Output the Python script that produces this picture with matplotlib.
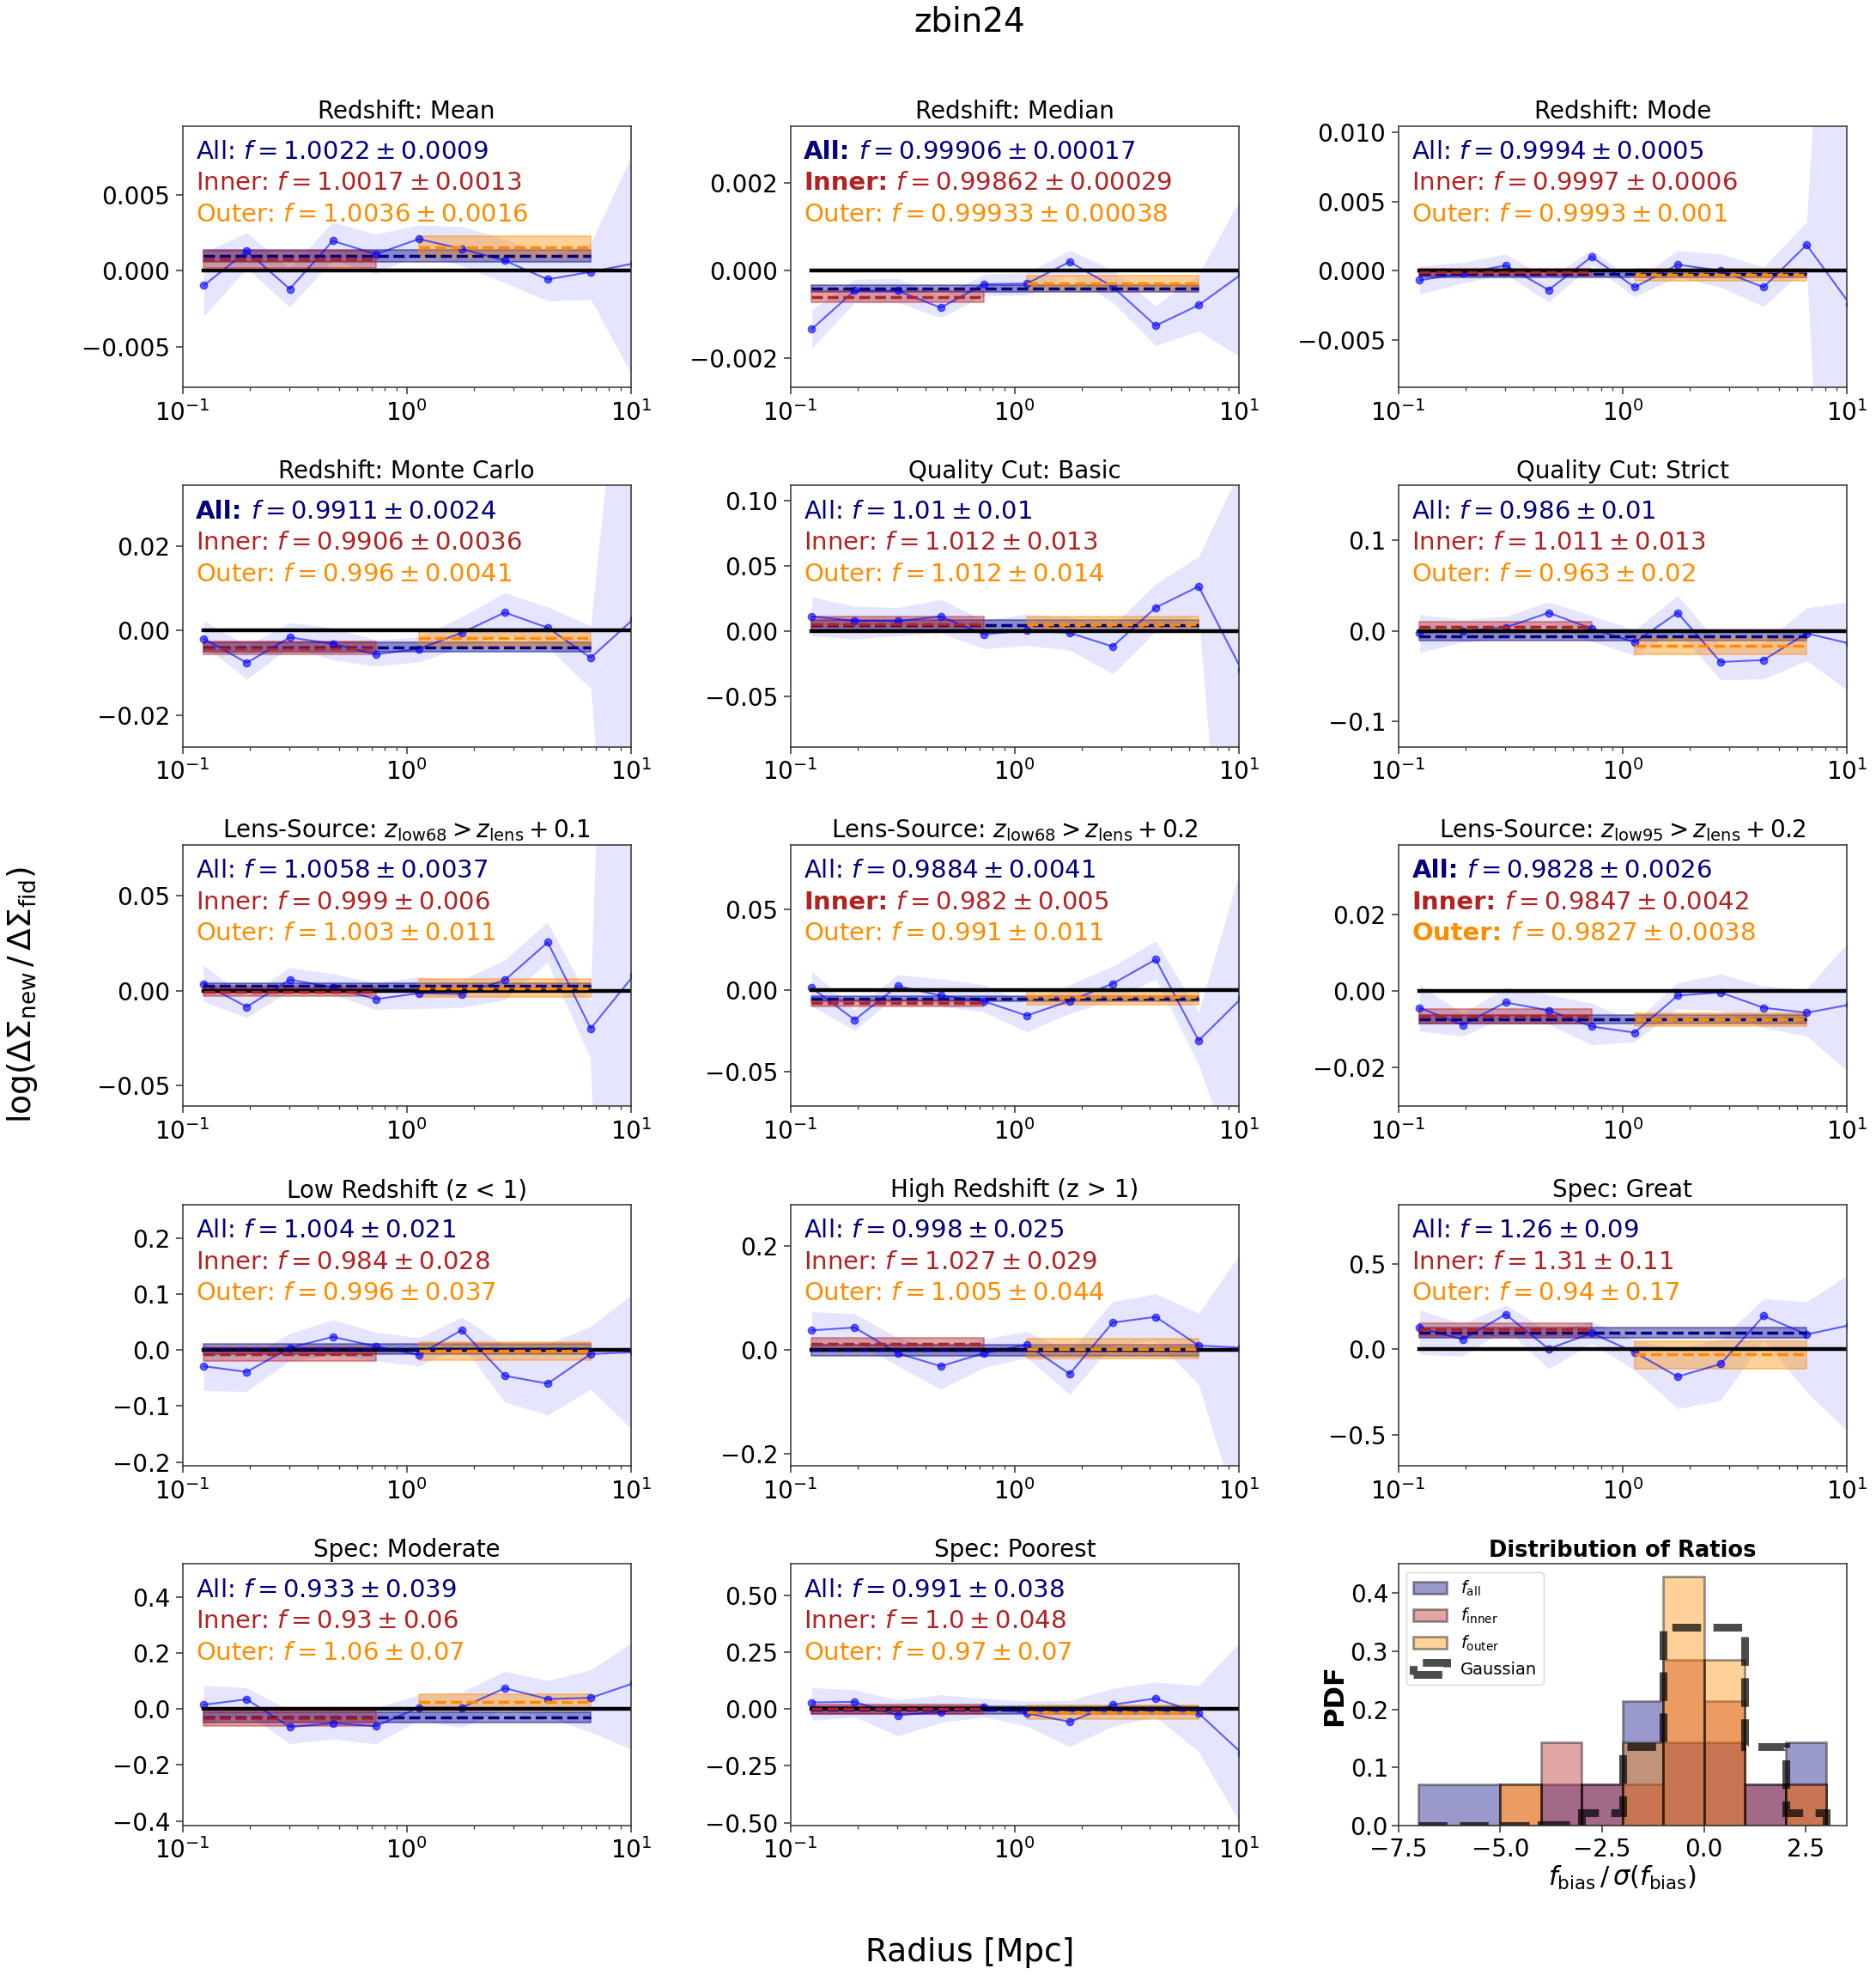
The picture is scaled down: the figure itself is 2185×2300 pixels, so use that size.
import numpy as np
import matplotlib
matplotlib.use("Agg")
import matplotlib.pyplot as plt

plt.rcParams['axes.edgecolor'] = '0.2'
plt.rcParams['axes.linewidth'] = 1.1
plt.rcParams['xtick.color'] = '0.2'
plt.rcParams['ytick.color'] = '0.2'
plt.rcParams['xtick.labelcolor'] = 'black'
plt.rcParams['ytick.labelcolor'] = 'black'
plt.rcParams['xtick.major.size'] = 5.5
plt.rcParams['ytick.major.size'] = 5.5
plt.rcParams['xtick.minor.size'] = 3.2
plt.rcParams['ytick.minor.size'] = 3.2
plt.rcParams['xtick.major.width'] = 1.1
plt.rcParams['ytick.major.width'] = 1.1
plt.rcParams['xtick.minor.width'] = 0.9
plt.rcParams['ytick.minor.width'] = 0.9
plt.rcParams['xtick.major.pad'] = 5
plt.rcParams['ytick.major.pad'] = 5

# ---------------- data ----------------
radius = [0.1244, 0.1934, 0.3009, 0.468, 0.7278, 1.132, 1.760, 2.737, 4.258, 6.622, 10.30]

titles = [
    "Redshift: Mean", "Redshift: Median", "Redshift: Mode",
    "Redshift: Monte Carlo", "Quality Cut: Basic", "Quality Cut: Strict",
    r"Lens-Source: $z_{\rm low68} > z_{\rm lens} + 0.1$",
    r"Lens-Source: $z_{\rm low68} > z_{\rm lens} + 0.2$",
    r"Lens-Source: $z_{\rm low95} > z_{\rm lens} + 0.2$",
    "Low Redshift (z < 1)", "High Redshift (z > 1)", "Spec: Great",
    "Spec: Moderate", "Spec: Poorest",
]

log_ratio = [
    [-0.00098, 0.00128, -0.00121, 0.00196, 0.00108, 0.00208, 0.00143, 0.00066, -0.00058, -0.00008, 0.00047],
    [-0.00134, -0.00046, -0.00046, -0.00085, -0.00031, -0.0003, 0.0002, -0.00037, -0.00126, -0.00079, -0.00008],
    [-0.0007, -0.0002, 0.00037, -0.0014, 0.001, -0.0012, 0.00043, 0.0, -0.0012, 0.00186, -0.0024],
    [-0.0019, -0.0076, -0.0016, -0.0031, -0.0056, -0.0043, -0.0005, 0.0043, 0.0007, -0.0064, 0.0028],
    [0.011, 0.0077, 0.0075, 0.011, -0.0026, 0.0002, -0.0015, -0.012, 0.0178, 0.034, -0.030],
    [-0.0022, 0.0, 0.0038, 0.0199, 0.0025, -0.0126, 0.0199, -0.0344, -0.0322, -0.0028, -0.014],
    [0.0036, -0.0086, 0.0058, 0.0017, -0.0045, -0.0014, -0.0018, 0.0055, 0.0255, -0.02, 0.0081],
    [0.0016, -0.0182, 0.0027, -0.0032, -0.0067, -0.0156, -0.0065, 0.0041, 0.0191, -0.031, -0.0047],
    [-0.0045, -0.009, -0.0031, -0.0052, -0.0094, -0.011, -0.0013, -0.0005, -0.0045, -0.0058, -0.0037],
    [-0.029, -0.039, 0.004, 0.0235, 0.0066, -0.0087, 0.0358, -0.046, -0.06, -0.007, -0.0039],
    [0.0375, 0.043, -0.0066, -0.0315, -0.0066, 0.0099, -0.0464, 0.0525, 0.0635, 0.0083, 0.0041],
    [0.1265, 0.059, 0.206, 0.003, 0.096, -0.017, -0.16, -0.086, 0.197, 0.088, 0.142],
    [0.0153, 0.0347, -0.064, -0.051, -0.061, 0.005, 0.005, 0.0745, 0.0357, 0.04, 0.0925],
    [0.0289, 0.0314, -0.0276, -0.0126, 0.01, -0.0188, -0.0565, 0.0188, 0.0465, -0.0188, -0.194],
]

band_lo = [
    [-0.0030, 0.00015, -0.0024, 0.0007, -0.0002, 0.0011, 0.0003, -0.0008, -0.002, -0.0019, -0.0071],
    [-0.00178, -0.00073, -0.00073, -0.00108, -0.00057, -0.00057, -0.00011, -0.00073, -0.00172, -0.00138, -0.002],
    [-0.0017, -0.0009, -0.00025, -0.00228, 0.0004, -0.0019, -0.00046, -0.0012, -0.0026, 0.00027, -0.06],
    [-0.0035, -0.0115, -0.0039, -0.0069, -0.0084, -0.0074, -0.0039, -0.0008, -0.0039, -0.0137, -0.14],
    [-0.0037, -0.0064, -0.0037, -0.0015, -0.0136, -0.0114, -0.0147, -0.033, -0.0004, 0.012, -0.39],
    [-0.024, -0.0126, -0.0076, 0.0088, -0.0117, -0.027, -0.0006, -0.054, -0.053, -0.033, -0.0675],
    [-0.0059, -0.0145, -0.0006, -0.0021, -0.0102, -0.0097, -0.0092, -0.0052, 0.0148, -0.036, -0.65],
    [-0.0097, -0.0248, -0.0027, -0.0097, -0.0133, -0.0257, -0.0142, -0.0062, 0.0071, -0.046, -0.122],
    [-0.0106, -0.0119, -0.0069, -0.0089, -0.0142, -0.0134, -0.0048, -0.0052, -0.0097, -0.0119, -0.0216],
    [-0.0726, -0.074, -0.019, -0.0087, -0.019, -0.029, 0.0092, -0.093, -0.116, -0.07, -0.145],
    [0.0017, 0.0155, -0.0315, -0.0757, -0.0343, -0.015, -0.0856, 0.0099, 0.017, -0.067, -0.34],
    [-0.030, -0.039, 0.121, -0.115, 0.034, -0.123, -0.348, -0.30, 0.054, -0.25, -0.494],
    [-0.056, -0.0153, -0.124, -0.107, -0.124, -0.04, -0.066, 0.0, -0.03, -0.082, -0.148],
    [-0.05, -0.035, -0.119, -0.06, -0.035, -0.075, -0.166, -0.075, -0.035, -0.188, -0.513],
]

band_hi = [
    [0.0012, 0.0025, 0.00015, 0.0032, 0.0024, 0.0030, 0.0029, 0.0021, 0.0009, 0.0018, 0.0079],
    [-0.0009, -0.0002, -0.00018, -0.0006, -0.00008, -0.00005, 0.00046, 0.00002, -0.00081, -0.00008, 0.0017],
    [0.00033, 0.0006, 0.0012, -0.00056, 0.0015, -0.00077, 0.00145, 0.0012, 0.00027, 0.0035, 0.055],
    [0.0024, -0.0035, 0.0019, 0.0007, -0.0022, -0.0015, 0.0033, 0.009, 0.0056, 0.0012, 0.10],
    [0.026, 0.019, 0.0178, 0.024, 0.0083, 0.0127, 0.0105, 0.004, 0.036, 0.057, 0.126],
    [0.018, 0.0126, 0.016, 0.032, 0.0167, 0.001, 0.039, -0.0164, -0.013, 0.0253, 0.032],
    [0.0133, -0.0036, 0.012, 0.0088, 0.0039, 0.007, 0.0055, 0.0158, 0.036, -0.006, 0.67],
    [0.012, -0.0119, 0.0097, 0.0071, 0.0035, -0.008, 0.0035, 0.015, 0.0306, -0.0133, 0.078],
    [0.0016, -0.0059, 0.0008, -0.001, -0.0033, -0.0082, 0.0021, 0.0043, 0.0012, 0.0004, 0.0132],
    [0.0092, -0.0138, 0.0297, 0.054, 0.032, 0.022, 0.059, 0.0092, 0.0118, 0.042, 0.102],
    [0.0735, 0.0696, 0.0238, 0.0017, 0.021, 0.036, -0.0039, 0.093, 0.108, 0.0707, 0.19],
    [0.231, 0.152, 0.261, 0.106, 0.164, 0.054, 0.003, 0.062, 0.298, 0.28, 0.445],
    [0.0837, 0.0765, -0.005, 0.0102, 0.005, 0.051, 0.061, 0.1347, 0.102, 0.14, 0.242],
    [0.094, 0.085, 0.04, 0.063, 0.0465, 0.035, 0.0377, 0.09, 0.119, 0.104, 0.303],
]

# fitted ratios as printed: (value, error)
fit_all = [("1.0022", "0.0009"), ("0.99906", "0.00017"), ("0.9994", "0.0005"),
           ("0.9911", "0.0024"), ("1.01", "0.01"), ("0.986", "0.01"),
           ("1.0058", "0.0037"), ("0.9884", "0.0041"), ("0.9828", "0.0026"),
           ("1.004", "0.021"), ("0.998", "0.025"), ("1.26", "0.09"),
           ("0.933", "0.039"), ("0.991", "0.038")]
fit_inner = [("1.0017", "0.0013"), ("0.99862", "0.00029"), ("0.9997", "0.0006"),
             ("0.9906", "0.0036"), ("1.012", "0.013"), ("1.011", "0.013"),
             ("0.999", "0.006"), ("0.982", "0.005"), ("0.9847", "0.0042"),
             ("0.984", "0.028"), ("1.027", "0.029"), ("1.31", "0.11"),
             ("0.93", "0.06"), ("1.0", "0.048")]
fit_outer = [("1.0036", "0.0016"), ("0.99933", "0.00038"), ("0.9993", "0.001"),
             ("0.996", "0.0041"), ("1.012", "0.014"), ("0.963", "0.02"),
             ("1.003", "0.011"), ("0.991", "0.011"), ("0.9827", "0.0038"),
             ("0.996", "0.037"), ("1.005", "0.044"), ("0.94", "0.17"),
             ("1.06", "0.07"), ("0.97", "0.07")]
# significant (bold) labels: All, Inner, Outer
bold_flags = [(0, 0, 0), (1, 1, 0), (0, 0, 0),
              (1, 0, 0), (0, 0, 0), (0, 0, 0),
              (0, 0, 0), (0, 1, 0), (1, 1, 1),
              (0, 0, 0), (0, 0, 0), (0, 0, 0),
              (0, 0, 0), (0, 0, 0)]

ylims = [(-0.00768, 0.00953), (-0.00267, 0.00331), (-0.00843, 0.01046),
         (-0.0275, 0.0344), (-0.0888, 0.1114), (-0.128, 0.1605),
         (-0.0612, 0.077), (-0.0717, 0.0899), (-0.0303, 0.0381),
         (-0.207, 0.26), (-0.2236, 0.28), (-0.685, 0.852),
         (-0.416, 0.518), (-0.5126, 0.638)]

# histogram of f_bias / sigma(f_bias)
hist_edges = [-7, -5, -4, -3, -2, -1, 0, 1, 2, 3]
pdf_all = [0.0714, 0.0, 0.0714, 0.0714, 0.2143, 0.1429, 0.1429, 0.0714, 0.1429]
pdf_inner = [0.0, 0.0714, 0.1429, 0.0714, 0.0714, 0.2857, 0.2143, 0.0714, 0.0714]
pdf_outer = [0.0, 0.0714, 0.0, 0.0, 0.1429, 0.4286, 0.2857, 0.0, 0.0714]
pdf_gauss = [0.0, 0.00003, 0.0013, 0.0214, 0.1359, 0.3413, 0.3413, 0.1359, 0.0214]
hist_xticks = [-7.5, -5.0, -2.5, 0.0, 2.5]

# ---------------- plot ----------------
fig = plt.figure(figsize=(21.85, 23), dpi=100)
gs = fig.add_gridspec(5, 3, left=0.0973, right=0.9844, top=0.9363, bottom=0.0757,
                      wspace=0.356, hspace=0.375)
renderer = fig.canvas.get_renderer()

r = np.array(radius)
seg_colors = ['navy', 'firebrick', 'darkorange']
seg_names = ['All', 'Inner', 'Outer']
seg_range = [(0, 9), (0, 4), (5, 9)]
text_fs = 21
text_x = 0.03
text_y = [0.874, 0.754, 0.634]

for k in range(14):
    ax = fig.add_subplot(gs[k // 3, k % 3])
    ax.set_xscale('log')
    ax.set_xlim(0.1, 10)
    ax.set_ylim(*ylims[k])
    ax.fill_between(r, band_lo[k], band_hi[k], color='blue', alpha=0.1, lw=0, zorder=1)
    ax.plot(r, log_ratio[k], '-o', color='blue', alpha=0.6, lw=1.5, ms=6, zorder=2)
    fits = [fit_all[k], fit_inner[k], fit_outer[k]]
    for j in range(3):
        fv = float(fits[j][0])
        fe = float(fits[j][1])
        i0, i1 = seg_range[j]
        c = seg_colors[j]
        ax.fill_between([r[i0], r[i1]], [np.log10(fv - fe)] * 2, [np.log10(fv + fe)] * 2,
                        color=c, alpha=0.4, lw=1.5, zorder=1.5)
    ax.plot([r[0], r[-1]], [0, 0], color='black', lw=3.2, zorder=2.5)
    for j in range(3):
        fv = float(fits[j][0])
        i0, i1 = seg_range[j]
        c = seg_colors[j]
        ax.plot([r[i0], r[i1]], [np.log10(fv)] * 2, '--', color=c, lw=2.5, zorder=3)
    for j in range(3):
        fs, es = fits[j]
        math = r'$f = ' + fs + r' \pm ' + es + '$'
        if bold_flags[k][j]:
            t1 = ax.text(text_x, text_y[j], seg_names[j] + ':', transform=ax.transAxes,
                         color=seg_colors[j], fontsize=text_fs, fontweight='bold',
                         ha='left', va='baseline', zorder=5)
            bb = t1.get_window_extent(renderer=renderer)
            axbb = ax.get_window_extent(renderer=renderer)
            dx = bb.width / axbb.width
            ax.text(text_x + dx, text_y[j], ' ' + math, transform=ax.transAxes,
                    color=seg_colors[j], fontsize=text_fs, ha='left', va='baseline', zorder=5)
        else:
            ax.text(text_x, text_y[j], seg_names[j] + ': ' + math, transform=ax.transAxes,
                    color=seg_colors[j], fontsize=text_fs, ha='left', va='baseline', zorder=5)
    ax.set_title(titles[k], fontsize=20)
    ax.tick_params(axis='both', which='major', labelsize=20)

# histogram panel
axh = fig.add_subplot(gs[4, 2])
edges = np.array(hist_edges, dtype=float)
centers = 0.5 * (edges[:-1] + edges[1:])
axh.hist(centers, bins=edges, weights=pdf_all, color='navy', alpha=0.4,
         edgecolor='black', lw=2, label=r'$f_{\rm all}$')
axh.hist(centers, bins=edges, weights=pdf_inner, color='firebrick', alpha=0.4,
         edgecolor='black', lw=2, label=r'$f_{\rm inner}$')
axh.hist(centers, bins=edges, weights=pdf_outer, color='darkorange', alpha=0.4,
         edgecolor='black', lw=2, label=r'$f_{\rm outer}$')
axh.hist(centers, bins=edges, weights=pdf_gauss, histtype='step', color='black',
         alpha=0.7, lw=6.5, ls='--', label='Gaussian')
axh.set_xticks(hist_xticks)
axh.set_title('Distribution of Ratios', fontsize=18.5, fontweight='bold')
axh.set_ylabel('PDF', fontsize=23, fontweight='bold', labelpad=2)
axh.set_xlabel(r'$f_{\rm bias}\,/\,\sigma(f_{\rm bias})$', fontsize=22, labelpad=2)
axh.tick_params(axis='both', which='major', labelsize=20)
axh.tick_params(axis='y', which='major', pad=3)
axh.legend(loc='upper left', fontsize=14)

fig.text(0.517, 0.9887, 'zbin24', ha='center', va='center', fontsize=28)
fig.text(0.517, 0.0115, 'Radius [Mpc]', ha='center', va='center', fontsize=27)
fig.text(0.012, 0.4965, r'$\log(\Delta\Sigma_{\rm new}\,/\,\Delta\Sigma_{\rm fid})$',
         rotation=90, ha='center', va='center', fontsize=27)

fig.savefig('out.png', dpi=100)
